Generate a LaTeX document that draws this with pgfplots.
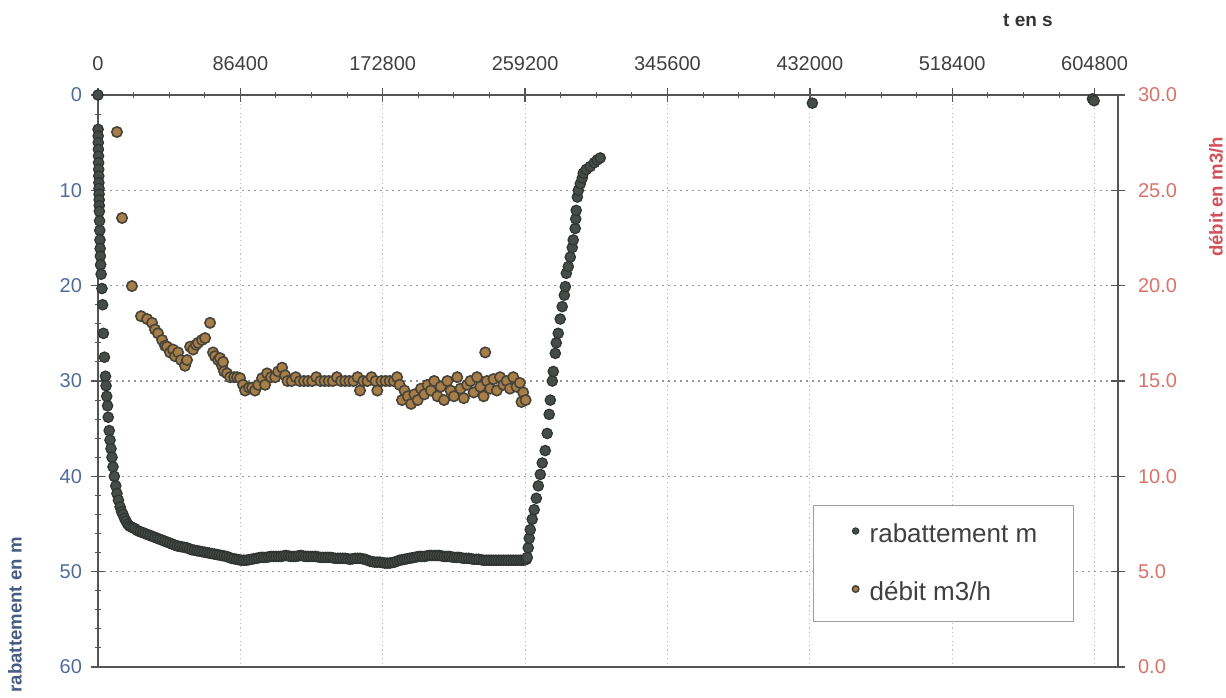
\documentclass[border=0pt]{standalone}
\usepackage{fontspec}
\setmainfont{Liberation Sans}
\usepackage{pgfplots}
\pgfplotsset{compat=1.18}
\definecolor{rabfill}{RGB}{70,76,72}
\definecolor{rabdraw}{RGB}{48,52,50}
\definecolor{debfill}{RGB}{168,126,72}
\definecolor{debdraw}{RGB}{72,68,58}
\definecolor{axcol}{RGB}{85,85,85}
\definecolor{leftcol}{RGB}{80,108,155}
\definecolor{leftlab}{RGB}{70,92,130}
\definecolor{rightcol}{RGB}{215,115,105}
\definecolor{rightlab}{RGB}{210,80,90}
\definecolor{gridcol}{RGB}{150,150,150}
\definecolor{vgridcol}{RGB}{185,185,185}
\begin{document}
\begin{tikzpicture}
\pgfplotsset{
  common/.style={
    scale only axis, width=510pt, height=286pt,
    xmin=0, xmax=619000, clip=false,
    scaled x ticks=false, scaled y ticks=false,
    axis line style={axcol, line width=1pt},
    tick style={axcol, line width=0.7pt},
    every tick label/.append style={font=\fontsize{10}{12}\selectfont},
    /pgf/number format/assume math mode=true,
  }
}
\begin{axis}[common,
  ymin=0, ymax=60, y dir=reverse,
  xtick={0,86400,172800,259200,345600,432000,518400,604800},
  xticklabels={0,86400,172800,259200,345600,432000,518400,604800},
  xtick pos=upper, xticklabel pos=upper,
  xticklabel style={text=black!75, yshift=5pt},
  minor x tick num=3,
  ytick={0,10,20,30,40,50,60},
  yticklabels={0,10,20,30,40,50,60},
  ytick pos=left,
  yticklabel style={text=leftcol, xshift=-1pt},
  minor y tick num=4,
  tick align=center,
  major tick length=7pt, minor tick length=3pt,
  minor tick style={axcol, line width=0.5pt},
  xmajorgrids, ymajorgrids,
  y grid style={gridcol, line width=0.7pt, dash pattern=on 1.2pt off 1.8pt},
  x grid style={vgridcol, line width=0.6pt, dash pattern=on 0.6pt off 1.6pt},
]
\addplot[only marks, mark=*, mark size=2.6pt,
  mark options={fill=rabfill, draw=rabdraw, line width=0.6pt}]
table {
t r
0 0
60 3.6
120 4.3
180 5.0
240 5.7
300 6.4
360 7.1
420 7.8
480 8.5
540 9.2
600 9.8
660 10.4
720 11.0
780 11.6
840 12.2
960 13.2
1080 14.2
1200 15.2
1320 16.1
1440 16.9
1620 17.8
1900 18.8
2400 20.3
2800 22.0
3300 25.0
3900 27.5
4500 29.5
4900 30.5
5300 31.6
5800 32.6
6200 33.8
6800 35.2
7300 36.2
7900 37.1
8500 38.0
9100 39.0
9900 40.0
10800 41.0
11500 41.8
12400 42.5
13400 43.2
14300 43.7
15200 44.0
16100 44.4
17000 44.7
18000 45.0
19000 45.2
20100 45.3
21250 45.4
22500 45.5
24000 45.7
25500 45.8
27000 45.9
28500 46.0
30000 46.1
31500 46.2
33000 46.3
34500 46.4
36000 46.5
37500 46.6
39000 46.7
40500 46.8
42000 46.9
43500 47.0
45000 47.1
46500 47.2
48000 47.3
49500 47.35
51000 47.4
52500 47.45
54000 47.5
55500 47.6
57000 47.7
58500 47.75
60000 47.8
61500 47.85
63000 47.9
64500 47.95
66000 48.0
67500 48.05
69000 48.1
70500 48.15
72000 48.2
73500 48.25
75000 48.3
76500 48.35
78000 48.4
79500 48.5
81000 48.6
82500 48.65
84000 48.7
85500 48.75
87000 48.8
88500 48.8
90000 48.8
91500 48.75
93000 48.7
94500 48.65
96000 48.6
97500 48.55
99000 48.5
100500 48.5
102000 48.5
103500 48.45
105000 48.4
106500 48.4
108000 48.4
109500 48.4
111000 48.4
112500 48.35
114000 48.3
115500 48.35
117000 48.4
118500 48.4
120000 48.4
121500 48.35
123000 48.3
124500 48.35
126000 48.4
127500 48.4
129000 48.4
130500 48.4
132000 48.4
133500 48.45
135000 48.5
136500 48.5
138000 48.5
139500 48.5
141000 48.5
142500 48.55
144000 48.6
145500 48.6
147000 48.6
148500 48.6
150000 48.6
151500 48.65
153000 48.7
154500 48.65
156000 48.6
157500 48.6
159000 48.6
160500 48.65
162000 48.7
163500 48.8
165000 48.9
166500 48.95
168000 49.0
169500 49.0
171000 49.0
172500 49.05
174000 49.1
175500 49.1
177000 49.1
178500 49.05
180000 49.0
181500 48.9
183000 48.8
184500 48.75
186000 48.7
187500 48.65
189000 48.6
190500 48.55
192000 48.5
193500 48.45
195000 48.4
196500 48.4
198000 48.4
199500 48.35
201000 48.3
202500 48.3
204000 48.3
205500 48.3
207000 48.3
208500 48.35
210000 48.4
211500 48.4
213000 48.4
214500 48.45
216000 48.5
217500 48.5
219000 48.5
220500 48.55
222000 48.6
223500 48.6
225000 48.6
226500 48.65
228000 48.7
229500 48.7
231000 48.7
232500 48.75
234000 48.8
235500 48.8
237000 48.8
238500 48.8
240000 48.8
241500 48.8
243000 48.8
244500 48.8
246000 48.8
247500 48.8
249000 48.8
250500 48.8
252000 48.8
253500 48.8
255000 48.8
256500 48.8
258000 48.8
259200 48.75
260000 48.7
260500 48.5
261100 47.5
261700 46.5
262300 45.6
263500 44.5
264700 43.5
266000 42.3
267200 41.0
268400 39.8
269600 38.6
271400 37.3
272600 35.5
273800 33.5
274500 32.0
275700 30.0
276300 29.0
277500 27.1
278100 26.0
279300 25.0
280500 23.5
281700 22.2
283000 21.0
283600 20.1
284200 18.7
285400 18.0
286600 17.0
287800 16.0
288400 15.2
289600 14.0
289900 13.0
290200 12.1
290900 10.7
291500 10.0
292700 9.3
293900 8.7
294500 8.2
296300 7.8
298700 7.5
301200 7.1
303000 6.8
304800 6.6
433500 0.85
603500 0.4
604500 0.6
};
\end{axis}
\begin{axis}[common,
  ymin=0, ymax=30,
  axis x line=none,
  axis y line*=right,
  ytick={0,5,10,15,20,25,30},
  yticklabels={0.0,5.0,10.0,15.0,20.0,25.0,30.0},
  yticklabel style={text=rightcol, xshift=3pt},
  tick align=center, major tick length=7pt,
  legend style={at={(rel axis cs:0.701,0.283)}, anchor=north west,
    draw=gray!75, line width=0.6pt, fill=white,
    font=\fontsize{13}{15}\selectfont, text=black!75,
    inner xsep=4pt, inner ysep=7pt, row sep=14pt},
  legend cell align=left,
  legend image code/.code={\path[draw=none, fill=none] (-17pt,0pt) -- (5pt,0pt);
     \draw[#1, mark size=1.6pt] plot coordinates {(0pt,1.8pt)};},
]
\addlegendimage{only marks, mark=*, mark options={fill=rabfill, draw=rabdraw, line width=0.5pt}}
\addlegendentry{rabattement m\hspace*{12pt}}
\addplot[only marks, mark=*, mark size=2.6pt,
  mark options={fill=debfill, draw=debdraw, line width=0.8pt}]
table {
t d
11500 28.06
14600 23.55
20600 19.98
26100 18.4
29800 18.25
32800 18.05
34600 17.7
36400 17.5
38900 17.15
40700 16.85
41900 16.8
43700 16.5
45500 16.65
46800 16.3
48600 16.5
50400 16.1
52800 15.8
54000 16.1
55900 16.8
57700 16.65
59500 16.9
60700 17.0
63100 17.15
65000 17.25
68000 18.05
69800 16.5
71000 16.3
72900 16.1
74100 16.2
75300 15.8
75900 16.0
76500 15.5
78300 15.4
80200 15.2
82600 15.2
84400 15.2
86200 15.15
88000 14.8
89300 14.5
91700 14.65
93500 14.65
95300 14.5
97200 14.8
99600 15.15
101400 14.8
102600 15.4
105000 15.2
107500 15.2
109300 15.5
111700 15.7
113500 15.3
115000 15.0
117500 15.0
120000 15.2
122500 15.0
125000 15.0
127500 15.0
130000 15.0
132500 15.2
135000 15.0
137500 15.0
140000 15.0
142500 15.0
145000 15.2
147500 15.0
150000 15.0
152500 15.0
155000 15.0
157500 15.2
159000 14.5
161000 15.0
163500 15.0
166000 15.2
168500 15.0
169500 14.5
172000 15.0
174500 15.0
177000 15.0
179500 15.0
181500 15.2
183000 14.8
184500 14.0
186000 14.5
188000 14.2
190000 13.8
192000 14.3
194000 14.0
196000 14.6
198000 14.3
200000 14.8
202000 14.5
204000 15.0
206000 14.2
208000 14.7
210000 14.0
212000 15.0
214000 14.5
216000 14.2
218000 15.2
220000 14.6
222000 14.1
224000 14.8
226000 15.0
228000 14.4
230000 15.2
232000 14.7
234000 14.2
235000 16.5
236000 15.0
238000 14.6
240000 15.1
242000 14.5
244000 15.2
246000 14.8
248000 15.0
250000 14.6
252000 15.2
254000 14.7
256000 14.9
257000 13.9
258000 14.4
259500 14.0
};
\addlegendentry{débit m3/h}
\end{axis}
\node[font=\fontsize{9.5}{11}\selectfont\bfseries, text=black!80] at (465pt,323.5pt) {t en s};
\node[font=\fontsize{9.3}{11}\selectfont\bfseries, text=rightlab, rotate=90] at (559pt,235pt) {débit en m3/h};
\node[font=\fontsize{9.3}{11}\selectfont\bfseries, text=leftlab, rotate=90, anchor=east, inner sep=0pt] at (-41.5pt,65pt) {rabattement en m};
\pgfresetboundingbox
\path[use as bounding box] (-49pt,-15pt) rectangle (564pt,333.5pt);
\end{tikzpicture}
\end{document}
